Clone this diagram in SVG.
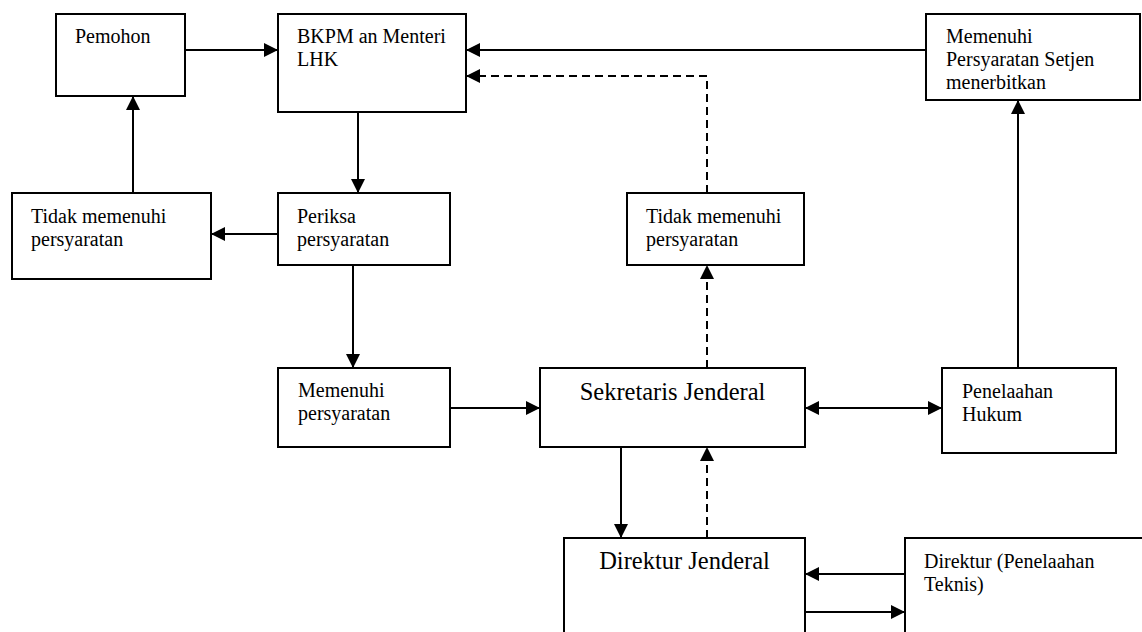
<svg xmlns="http://www.w3.org/2000/svg" width="1142" height="632" viewBox="0 0 1142 632">
<style>
.box{fill:#fff;stroke:#000;stroke-width:2}
.t{font-family:"Liberation Serif","Times New Roman",serif;font-size:20px;fill:#000}
.tl{font-family:"Liberation Serif","Times New Roman",serif;font-size:24.5px;fill:#000}
.c{fill:none;stroke:#000;stroke-width:2}
.d{fill:none;stroke:#000;stroke-width:2;stroke-dasharray:8,5}
</style>
<defs>
<marker id="ah" viewBox="0 0 14 14" refX="14" refY="7" markerWidth="14" markerHeight="14" markerUnits="userSpaceOnUse" orient="auto-start-reverse">
<path d="M0,0 L14,7 L0,14 Z" fill="#000"/>
</marker>
</defs>
<rect width="1142" height="632" fill="#fff"/>
<g id="connectors">
<line class="c" x1="185" y1="50" x2="278" y2="50" marker-end="url(#ah)"/>
<line class="c" x1="926" y1="50" x2="466" y2="50" marker-end="url(#ah)"/>
<polyline class="d" points="707,193 707,76 466,76" marker-end="url(#ah)"/>
<line class="c" x1="358" y1="112" x2="358" y2="193" marker-end="url(#ah)"/>
<line class="c" x1="278" y1="234" x2="211" y2="234" marker-end="url(#ah)"/>
<line class="c" x1="133" y1="193" x2="133" y2="96" marker-end="url(#ah)"/>
<line class="c" x1="353" y1="265" x2="353" y2="368" marker-end="url(#ah)"/>
<line class="c" x1="450" y1="408" x2="540" y2="408" marker-end="url(#ah)"/>
<line class="c" x1="805" y1="408" x2="942" y2="408" marker-start="url(#ah)" marker-end="url(#ah)"/>
<line class="c" x1="1018" y1="368" x2="1018" y2="100" marker-end="url(#ah)"/>
<line class="d" x1="707" y1="368" x2="707" y2="265" marker-end="url(#ah)"/>
<line class="c" x1="621" y1="447" x2="621" y2="538" marker-end="url(#ah)"/>
<line class="d" x1="707" y1="538" x2="707" y2="447" marker-end="url(#ah)"/>
<line class="c" x1="905" y1="574" x2="805" y2="574" marker-end="url(#ah)"/>
<line class="c" x1="805" y1="612" x2="905" y2="612" marker-end="url(#ah)"/>
</g>
<g id="pemohon">
<rect class="box" x="56" y="14" width="129" height="82"/>
<text class="t" x="75" y="43">Pemohon</text>
</g>
<g id="bkpm">
<rect class="box" x="278" y="14" width="188" height="98"/>
<text class="t" x="297" y="43">BKPM an Menteri</text>
<text class="t" x="297" y="66">LHK</text>
</g>
<g id="memenuhi-setjen">
<rect class="box" x="926" y="14" width="214" height="86"/>
<text class="t" x="946" y="43">Memenuhi</text>
<text class="t" x="946" y="66">Persyaratan Setjen</text>
<text class="t" x="946" y="89">menerbitkan</text>
</g>
<g id="tidak-kiri">
<rect class="box" x="12" y="193" width="199" height="86"/>
<text class="t" x="31" y="223">Tidak memenuhi</text>
<text class="t" x="31" y="246">persyaratan</text>
</g>
<g id="periksa">
<rect class="box" x="278" y="193" width="172" height="72"/>
<text class="t" x="297" y="223">Periksa</text>
<text class="t" x="297" y="246">persyaratan</text>
</g>
<g id="tidak-tengah">
<rect class="box" x="627" y="193" width="177" height="72"/>
<text class="t" x="646" y="223">Tidak memenuhi</text>
<text class="t" x="646" y="246">persyaratan</text>
</g>
<g id="memenuhi">
<rect class="box" x="278" y="368" width="172" height="79"/>
<text class="t" x="298" y="397">Memenuhi</text>
<text class="t" x="298" y="420">persyaratan</text>
</g>
<g id="sekretaris">
<rect class="box" x="540" y="368" width="265" height="79"/>
<text class="tl" x="672.5" y="400" text-anchor="middle">Sekretaris Jenderal</text>
</g>
<g id="penelaahan-hukum">
<rect class="box" x="942" y="368" width="174" height="85"/>
<text class="t" x="962" y="398">Penelaahan</text>
<text class="t" x="962" y="421">Hukum</text>
</g>
<g id="direktur-jenderal">
<rect class="box" x="564" y="538" width="241" height="120"/>
<text class="tl" x="684.5" y="569" text-anchor="middle">Direktur Jenderal</text>
</g>
<g id="direktur-teknis">
<rect class="box" x="905" y="538" width="260" height="120"/>
<text class="t" x="924" y="568">Direktur (Penelaahan</text>
<text class="t" x="924" y="591">Teknis)</text>
</g>
</svg>
